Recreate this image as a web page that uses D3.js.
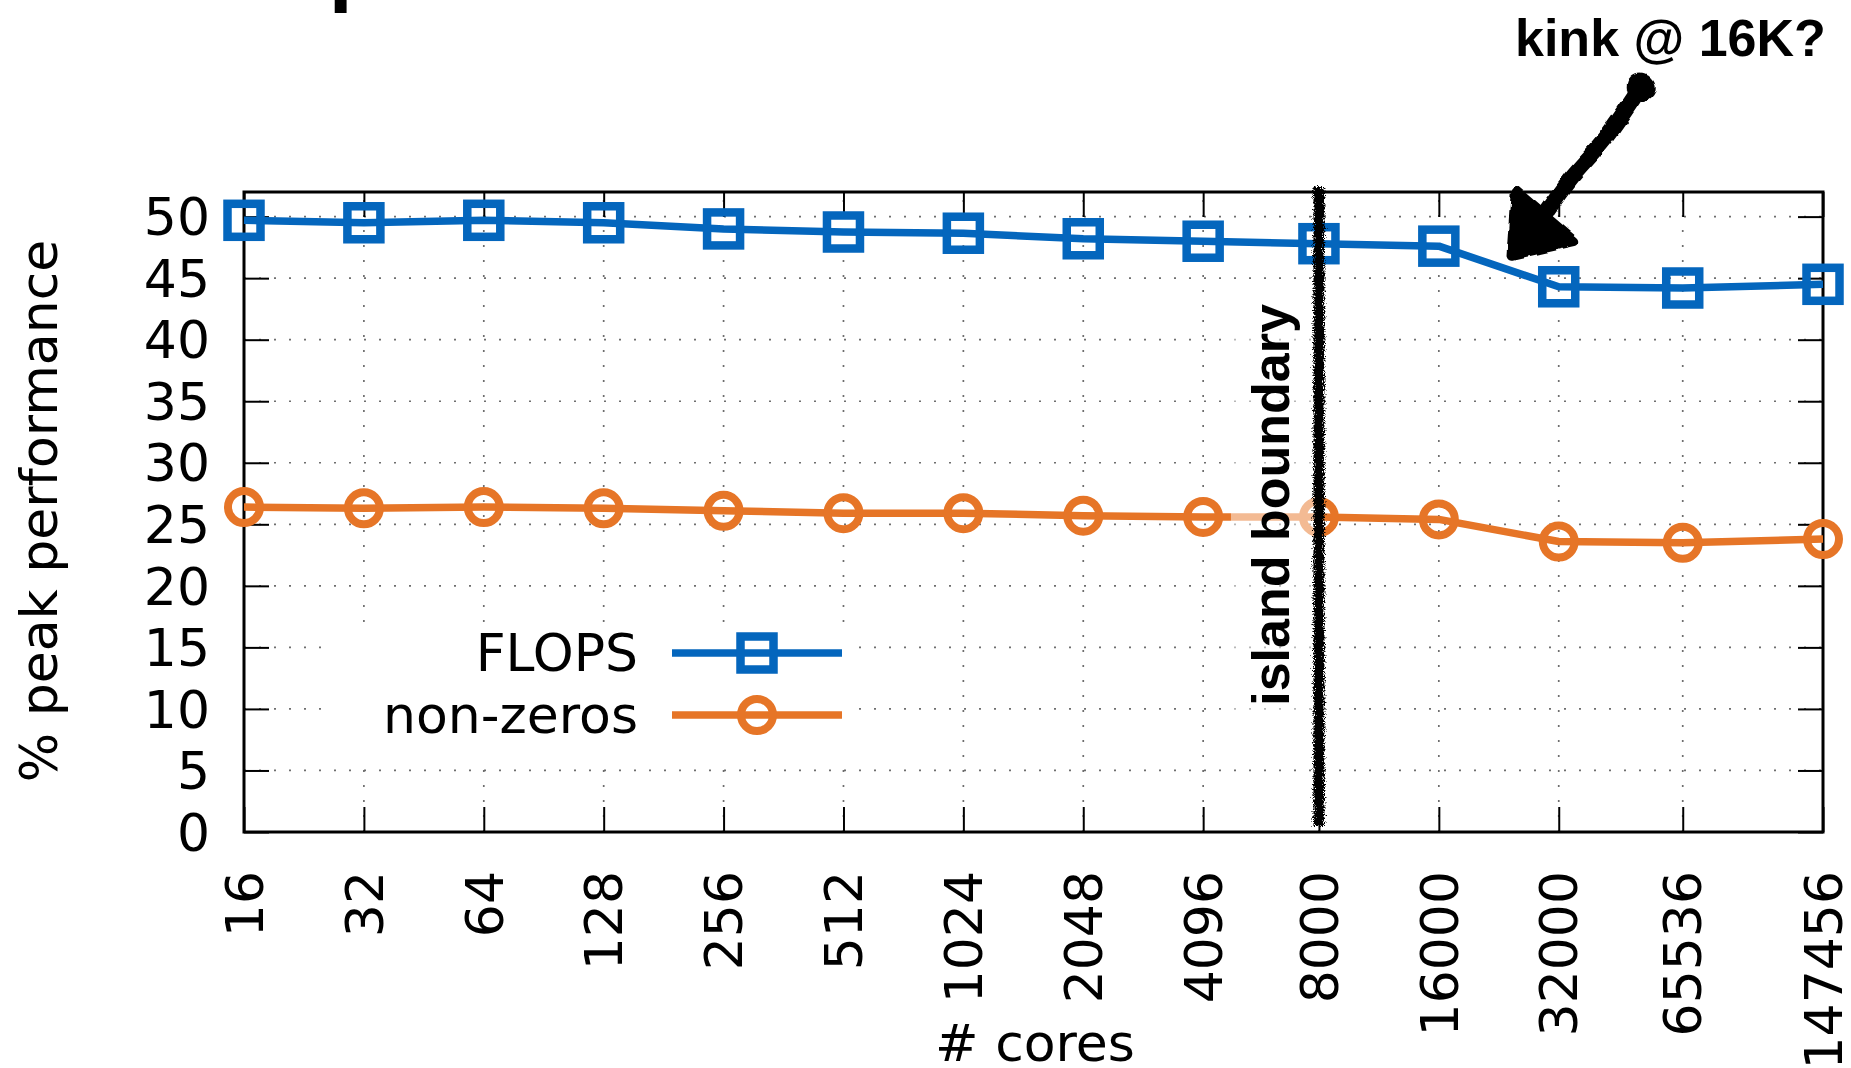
<!DOCTYPE html>
<html>
<head>
<meta charset="utf-8">
<script src="https://cdn.jsdelivr.net/npm/d3@7"></script>
<style>
  html, body { margin: 0; padding: 0; background: #fff; }
  svg { display: block; }
</style>
</head>
<body>
<script>
// Core counts on the x axis (log2 scale)
const cores = [16, 32, 64, 128, 256, 512, 1024, 2048, 4096, 8000, 16000, 32000, 65536, 147456];
const coreLabels = ["16", "32", "64", "128", "256", "512", "1024", "2048", "4096", "8000", "16000", "32000", "65536", "147456"];
// % of peak performance per series
const flops    = [49.7, 49.5, 49.7, 49.5, 49.0, 48.75, 48.65, 48.2, 48.0, 47.8, 47.6, 44.3, 44.2, 44.5];
const nonZeros = [26.4, 26.3, 26.4, 26.3, 26.1, 25.9, 25.9, 25.7, 25.6, 25.6, 25.4, 23.6, 23.5, 23.8];
const yTicks = [0, 5, 10, 15, 20, 25, 30, 35, 40, 45, 50];
const seriesNames = ["FLOPS", "non-zeros"];
// Island boundary position (cores)
const islandBoundary = 8000;
// Hand-drawn arrow annotation, in data units [cores, %]
const arrowShaft = [[51400, 60.5], [42000, 56.4], [33900, 52.9], [29350, 50.1]];
const arrowHead  = [[24500, 46.9], [25100, 52.0], [35000, 48.0]];

const W = 1851, H = 1068;
const plot = { left: 244, right: 1823, top: 192, bottom: 832 };

const svg = d3.select("body").append("svg").attr("width", W).attr("height", H);

const defs = svg.append("defs");
// Speckled, ragged edge for the marker-pen boundary line
const rough = defs.append("filter").attr("id", "rough").attr("filterUnits", "userSpaceOnUse")
  .attr("x", 0).attr("y", 0).attr("width", W).attr("height", H);
rough.append("feTurbulence").attr("type", "fractalNoise").attr("baseFrequency", 0.85)
  .attr("numOctaves", 2).attr("seed", 4).attr("result", "noise");
rough.append("feDisplacementMap").attr("in", "SourceGraphic").attr("in2", "noise")
  .attr("scale", 9).attr("xChannelSelector", "R").attr("yChannelSelector", "G");

// Gentle wobble for the hand-drawn arrow
const wobble = defs.append("filter").attr("id", "wobble").attr("filterUnits", "userSpaceOnUse")
  .attr("x", 0).attr("y", 0).attr("width", W).attr("height", H);
wobble.append("feTurbulence").attr("type", "fractalNoise").attr("baseFrequency", 0.06)
  .attr("numOctaves", 2).attr("seed", 2).attr("result", "noise");
wobble.append("feDisplacementMap").attr("in", "SourceGraphic").attr("in2", "noise")
  .attr("scale", 6).attr("xChannelSelector", "R").attr("yChannelSelector", "G");

const x = d3.scaleLog().base(2).domain([16, 147456]).range([plot.left, plot.right]);
const y = d3.scaleLinear().domain([0, 52]).range([plot.bottom, plot.top]);

const FONT = "'DejaVu Sans', sans-serif";
const BOLD = "'Liberation Sans', Arial, sans-serif";
const BLUE = "#0466bd", ORANGE = "#e67527";

// Grid (dotted)
const grid = svg.append("g").attr("stroke", "#6e6e6e").attr("stroke-width", 1.7)
  .attr("stroke-dasharray", "2,13");
grid.selectAll("line.gy").data(yTicks.slice(1)).enter().append("line")
  .attr("x1", plot.left).attr("x2", plot.right)
  .attr("y1", d => y(d)).attr("y2", d => y(d));
grid.selectAll("line.gx").data(cores.slice(1, -1)).enter().append("line")
  .attr("y1", plot.bottom).attr("y2", plot.top)
  .attr("x1", d => x(d)).attr("x2", d => x(d));

// Axes with inward ticks on all four sides
const axisG = svg.append("g");
axisG.append("g").attr("transform", `translate(${plot.left},0)`)
  .call(d3.axisRight(y).tickValues(yTicks).tickSize(25).tickFormat(""));
axisG.append("g").attr("transform", `translate(${plot.right},0)`)
  .call(d3.axisLeft(y).tickValues(yTicks).tickSize(25).tickFormat(""));
axisG.append("g").attr("transform", `translate(0,${plot.bottom})`)
  .call(d3.axisTop(x).tickValues(cores).tickSize(25).tickFormat(""));
axisG.append("g").attr("transform", `translate(0,${plot.top})`)
  .call(d3.axisBottom(x).tickValues(cores).tickSize(25).tickFormat(""));
axisG.selectAll(".domain").remove();
axisG.selectAll(".tick line").attr("stroke", "#000").attr("stroke-width", 2);
svg.append("rect").attr("x", plot.left).attr("y", plot.top)
  .attr("width", plot.right - plot.left).attr("height", plot.bottom - plot.top)
  .attr("fill", "none").attr("stroke", "#000").attr("stroke-width", 3);

// Y tick labels
svg.append("g").selectAll("text").data(yTicks).enter().append("text")
  .attr("x", 210).attr("y", d => y(d)).attr("dy", "0.36em")
  .attr("text-anchor", "end").attr("font-family", FONT).attr("font-size", 52)
  .text(d => d);

// X tick labels (rotated)
svg.append("g").selectAll("text").data(cores).enter().append("text")
  .attr("transform", (d) => `translate(${x(d)},871) rotate(-90)`)
  .attr("dy", "0.36em").attr("text-anchor", "end")
  .attr("font-family", FONT).attr("font-size", 52)
  .text((d, i) => coreLabels[i]);

// Axis titles
svg.append("text").attr("transform", "translate(57,511) rotate(-90)")
  .attr("text-anchor", "middle").attr("font-family", FONT).attr("font-size", 52)
  .text("% peak performance");
svg.append("text").attr("x", 1035).attr("y", 1061)
  .attr("text-anchor", "middle").attr("font-family", FONT).attr("font-size", 52)
  .text("# cores");

// Series
const line = d3.line().x(d => x(d[0])).y(d => y(d[1]));
const seriesData = [
  { name: seriesNames[0], color: BLUE, shape: "square", pts: cores.map((c, i) => [c, flops[i]]) },
  { name: seriesNames[1], color: ORANGE, shape: "circle", pts: cores.map((c, i) => [c, nonZeros[i]]) }
];

function drawMarker(g, shape, color, cx, cy) {
  if (shape === "square") {
    g.append("rect").attr("x", cx - 16.5).attr("y", cy - 16.5).attr("width", 33).attr("height", 33)
      .attr("fill", "none").attr("stroke", color).attr("stroke-width", 8.5);
  } else {
    g.append("circle").attr("cx", cx).attr("cy", cy).attr("r", 16)
      .attr("fill", "none").attr("stroke", color).attr("stroke-width", 8);
  }
}

seriesData.forEach(s => {
  const g = svg.append("g");
  g.append("path").datum(s.pts).attr("d", line).attr("fill", "none")
    .attr("stroke", s.color).attr("stroke-width", 7.5).attr("stroke-linejoin", "round");
  s.pts.forEach(p => drawMarker(g, s.shape, s.color, x(p[0]), y(p[1])));
});

// Legend (opaque box over the grid)
const legend = svg.append("g");
legend.append("rect").attr("x", 325).attr("y", 625).attr("width", 523).attr("height", 132)
  .attr("fill", "#fff");
seriesData.forEach((s, i) => {
  const ly = 653 + i * 62;
  legend.append("text").attr("x", 638).attr("y", ly + 18).attr("text-anchor", "end")
    .attr("font-family", FONT).attr("font-size", 52).text(s.name);
  legend.append("line").attr("x1", 672).attr("x2", 842).attr("y1", ly).attr("y2", ly)
    .attr("stroke", s.color).attr("stroke-width", 7.5);
  drawMarker(legend, s.shape, s.color, 757, ly);
});

// Island boundary: translucent label backdrop, label, rough vertical line
const xb = x(islandBoundary);
svg.append("rect").attr("x", xb - 88).attr("y", 295).attr("width", 86).attr("height", 420)
  .attr("fill", "#fff").attr("opacity", 0.5);
svg.append("text").attr("transform", `translate(${xb - 30},505) rotate(-90)`)
  .attr("text-anchor", "middle").attr("font-family", BOLD).attr("font-weight", "bold")
  .attr("font-size", 52).text("island boundary");
svg.append("rect").attr("x", xb - 5.5).attr("y", plot.top - 5).attr("width", 11)
  .attr("height", plot.bottom - plot.top - 1)
  .attr("fill", "#000").attr("filter", "url(#rough)");

// Kink annotation
svg.append("text").attr("x", 1515).attr("y", 56).attr("font-family", BOLD)
  .attr("font-weight", "bold").attr("font-size", 52).text("kink @ 16K?");
const arrow = svg.append("g").attr("filter", "url(#wobble)");
arrow.append("path").datum(arrowShaft).attr("d", d3.line().x(d => x(d[0])).y(d => y(d[1])).curve(d3.curveCatmullRom))
  .attr("fill", "none").attr("stroke", "#000").attr("stroke-width", 16).attr("stroke-linecap", "round");
arrow.append("circle").attr("cx", x(arrowShaft[0][0])).attr("cy", y(arrowShaft[0][1])).attr("r", 14);
arrow.append("path").datum(arrowHead).attr("d", d => d3.line().x(p => x(p[0])).y(p => y(p[1]))(d) + "Z")
  .attr("fill", "#000").attr("stroke", "#000").attr("stroke-width", 10).attr("stroke-linejoin", "round");

// Cropped title descender at the top edge
svg.append("text").attr("x", 329).attr("y", -1).attr("font-family", FONT).attr("font-weight", "bold")
  .attr("font-size", 68).text("p");
</script>
</body>
</html>
